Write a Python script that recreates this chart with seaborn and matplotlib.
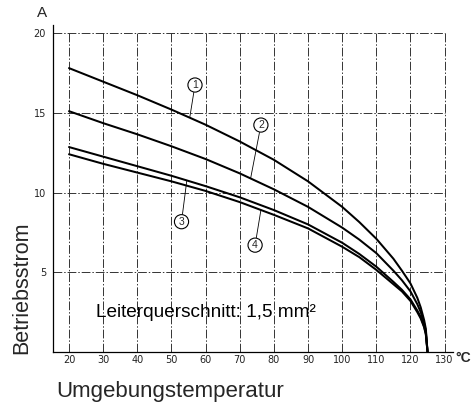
"""
Betriebsstrom vs. Umgebungstemperatur, Leiterquerschnitt 1,5 mm^2 (curves 1-4).
Output: out.png
"""

import pandas as pd
import matplotlib.pyplot as plt
import seaborn as sns

FILE_OUT = "out.png"

# temperatures (°C) and operating current (A)
temps = [20, 30, 40, 50, 60, 70, 80, 90, 100, 105, 110, 115, 117.5, 120, 122, 123, 124, 124.5, 125]
curve_1 = [17.8, 16.95, 16.1, 15.2, 14.25, 13.2, 12.05, 10.7, 9.1, 8.15, 7.1, 5.85, 5.1, 4.3, 3.4, 2.8, 2.0, 1.45, 0]
curve_2 = [15.1, 14.35, 13.65, 12.9, 12.1, 11.2, 10.2, 9.1, 7.8, 7.05, 6.2, 5.1, 4.5, 3.8, 3.0, 2.5, 1.8, 1.3, 0]
curve_3 = [12.85, 12.25, 11.65, 11.05, 10.4, 9.7, 8.9, 8.0, 6.85, 6.15, 5.35, 4.4, 3.9, 3.3, 2.6, 2.2, 1.6, 1.15, 0]
curve_4 = [12.4, 11.8, 11.25, 10.7, 10.1, 9.4, 8.6, 7.75, 6.6, 5.95, 5.15, 4.25, 3.8, 3.2, 2.5, 2.1, 1.55, 1.1, 0]
curve_names = ["1", "2", "3", "4"]

x_ticks = [20, 30, 40, 50, 60, 70, 80, 90, 100, 110, 120, 130]
y_ticks = [5, 10, 15, 20]

# label circle position and the point on the curve its leader line points to
label_text = [(56.9, 16.74), (76.2, 14.23), (52.95, 8.17), (74.5, 6.7)]
label_tip = [(55.4, 14.75), (73.2, 10.9), (54.5, 10.75), (76.2, 8.9)]


def make_chart():
    sns.set_theme(style="white")
    plt.rcParams["font.family"] = ["Liberation Sans", "DejaVu Sans"]

    frames = []
    for name, vals in zip(curve_names, [curve_1, curve_2, curve_3, curve_4]):
        frames.append(pd.DataFrame({"T": temps, "I": vals, "Kurve": name}))
    df = pd.concat(frames, ignore_index=True)

    fig = plt.figure(figsize=(4.77, 4.04), dpi=100)
    ax = fig.add_axes([0.111, 0.1287, 0.839, 0.8093])
    ax.set_xlim(15.3, 132.5)
    ax.set_ylim(0, 20.5)

    # dash-dot grid, boxed at 20 A / 130 °C like the original drawing
    grid_kw = dict(colors="#333333", linewidth=0.7, linestyles=[(0, (9, 2, 1.5, 2))], zorder=1)
    ax.vlines(x_ticks, 0, 20, **grid_kw)
    ax.hlines(y_ticks, 15.3, 130, **grid_kw)

    sns.lineplot(data=df, x="T", y="I", hue="Kurve", palette=["black"] * 4,
                 linewidth=1.45, legend=False, ax=ax, zorder=3, sort=False)

    for name, txt, tip in zip(curve_names, label_text, label_tip):
        ax.annotate(name, xy=tip, xytext=txt, ha="center", va="center", fontsize=7.5,
                    bbox=dict(boxstyle="circle,pad=0.2", fc="white", ec="black", lw=0.8),
                    arrowprops=dict(arrowstyle="-", color="black", lw=0.6, shrinkA=0, shrinkB=0),
                    zorder=4)

    ax.text(27.9, 2.45, "Leiterquerschnitt: 1,5 mm²", fontsize=13.7, ha="left", va="center",
            color="black", zorder=4)

    for side in ["top", "right"]:
        ax.spines[side].set_visible(False)
    for side in ["left", "bottom"]:
        ax.spines[side].set_color("black")
        ax.spines[side].set_linewidth(0.9)

    ax.set_xticks(x_ticks)
    ax.set_yticks(y_ticks)
    ax.set_xticklabels([str(t) for t in x_ticks])
    ax.set_yticklabels([str(t) for t in y_ticks])
    ax.tick_params(axis="both", length=0, labelsize=7, colors="#222222",
                   labelfontfamily="DejaVu Sans")
    ax.tick_params(axis="x", pad=2)
    ax.tick_params(axis="y", pad=5)
    ax.set_xlabel("")
    ax.set_ylabel("")

    fig.text(0.046, 0.287, "Betriebsstrom", rotation=90, ha="center", va="center", fontsize=15.5)
    fig.text(0.356, 0.03, "Umgebungstemperatur", ha="center", va="center", fontsize=16)
    fig.text(0.088, 0.968, "A", ha="center", va="center", fontsize=11)
    fig.text(0.971, 0.114, "°C", ha="center", va="center", fontsize=10, fontweight="bold")

    fig.savefig(FILE_OUT, dpi=100)
    plt.close(fig)


if __name__ == "__main__":
    make_chart()
